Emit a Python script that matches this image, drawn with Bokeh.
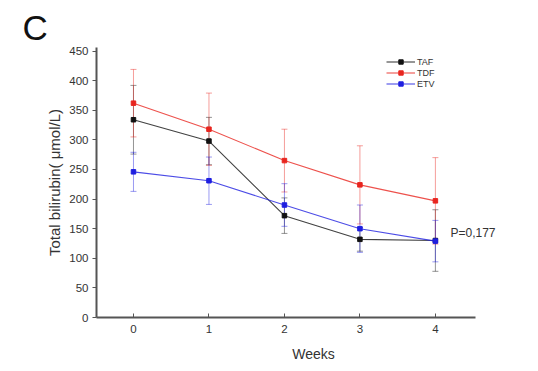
from bokeh.plotting import figure
from bokeh.models import (ColumnDataSource, Whisker, Legend, LegendItem, Label,
                          Range1d, FixedTicker, TeeHead)
from bokeh.embed import file_html
from bokeh.resources import INLINE

# Total bilirubin over the treatment weeks, mean and SD for each drug group
weeks = [0, 1, 2, 3, 4]
taf_mean = [334, 298, 172, 132, 130]
taf_sd = [58, 40, 30, 20, 52]
tdf_mean = [362, 318, 265, 224, 197]
tdf_sd = [57, 61, 53, 66, 73]
etv_mean = [246, 231, 190, 150, 129]
etv_sd = [33, 40, 36, 40, 35]
y_ticks = [0, 50, 100, 150, 200, 250, 300, 350, 400, 450]

FONT = "Liberation Sans"
TXT = "#333333"

# the frame runs on to the right edge so the p-value text fits; the x axis
# line itself is limited with bounds
p = figure(width=538, height=371, output_backend="svg", toolbar_location=None,
           x_range=Range1d(-0.49, 5.26), y_range=Range1d(0, 456),
           min_border_left=96, min_border_right=8, min_border_top=47,
           min_border_bottom=54, background_fill_color="white",
           border_fill_color="white", outline_line_color=None)
p.grid.visible = False

p.title.text = "C"
p.title.text_font = FONT
p.title.text_font_size = "35px"
p.title.text_font_style = "normal"
p.title.text_color = "#111111"
p.title.align = "left"
p.title.offset = -74
p.title.standoff = 2

series = [
    ("TAF", taf_mean, taf_sd, "#111111"),
    ("TDF", tdf_mean, tdf_sd, "#e8251f"),
    ("ETV", etv_mean, etv_sd, "#1f1fe0"),
]

items = []
for name, mean, sd, color in series:
    src = ColumnDataSource(dict(
        x=weeks, y=mean,
        lo=[m - s for m, s in zip(mean, sd)],
        hi=[m + s for m, s in zip(mean, sd)],
    ))
    w = Whisker(source=src, base="x", lower="lo", upper="hi",
                line_color=color, line_alpha=0.45, line_width=1,
                upper_head=TeeHead(size=6, line_color=color, line_alpha=0.45),
                lower_head=TeeHead(size=6, line_color=color, line_alpha=0.45))
    p.add_layout(w)
    ln = p.line("x", "y", source=src, line_color=color, line_width=1.1, line_alpha=0.8)
    mk = p.scatter("x", "y", source=src, marker="square", size=4.5,
                   fill_color=color, line_color=color)
    items.append(LegendItem(label=name, renderers=[ln, mk]))

legend = Legend(items=items, location=(290, 228), background_fill_alpha=0,
                border_line_color=None, label_text_font=FONT,
                label_text_font_size="9px", label_text_color=TXT,
                glyph_width=29, glyph_height=11, label_height=11,
                label_standoff=2, spacing=0, padding=0, margin=0)
p.add_layout(legend)

# axes
p.xaxis.ticker = FixedTicker(ticks=weeks)
p.yaxis.ticker = FixedTicker(ticks=y_ticks)
p.xaxis.bounds = (-0.49, 4.53)
p.xaxis.axis_label = "Weeks"
p.yaxis.axis_label = "Total bilirubin( \u03bcmol/L)"
for ax in (p.xaxis[0], p.yaxis[0]):
    ax.axis_line_color = "#555555"
    ax.axis_line_width = 2
    ax.major_tick_line_color = "#555555"
    ax.minor_tick_line_color = None
    ax.major_label_text_font = FONT
    ax.major_label_text_font_size = "11.5px"
    ax.major_label_text_color = TXT
    ax.axis_label_text_font = FONT
    ax.axis_label_text_font_style = "normal"
    ax.axis_label_text_color = TXT
p.xaxis.axis_label_text_font_size = "14px"
p.yaxis.axis_label_text_font_size = "15px"
p.xaxis.major_tick_in = 4
p.xaxis.major_tick_out = 0
p.xaxis.major_label_standoff = 7
p.xaxis.axis_label_standoff = 10
p.yaxis.major_tick_in = 0
p.yaxis.major_tick_out = 4
p.yaxis.major_label_standoff = 4
p.yaxis.axis_label_standoff = 3

p.add_layout(Label(x=4.2, y=143, text="P=0,177", text_font=FONT,
                   text_font_size="12px", text_color=TXT,
                   text_baseline="middle"))

open("out.html", "w").write(file_html(p, INLINE))
